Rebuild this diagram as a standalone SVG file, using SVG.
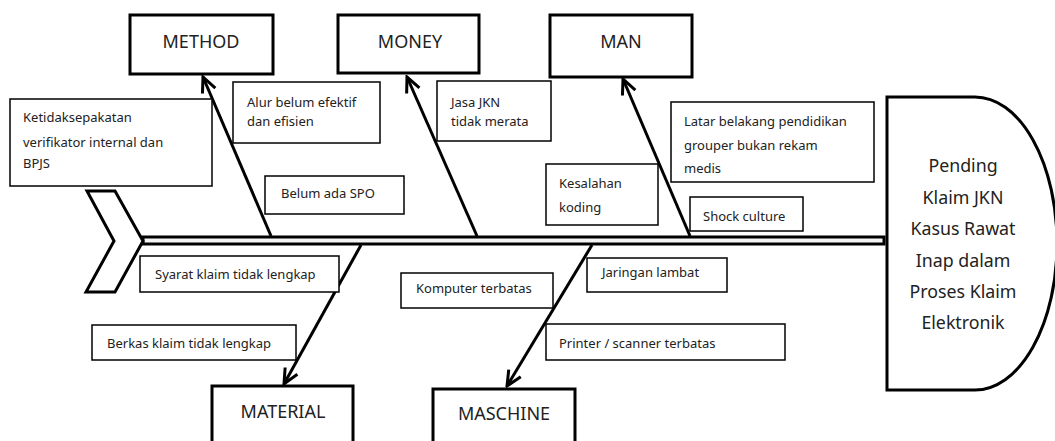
<svg xmlns="http://www.w3.org/2000/svg" width="1055" height="441" viewBox="0 0 1055 441">
<style>
  .cat { fill: #fff; stroke: #000; stroke-width: 3; }
  .box { fill: #fff; stroke: #000; stroke-width: 1.5; }
  .catText { font-family: "Noto Sans", "Open Sans", sans-serif; font-size: 18px; fill: #222; text-anchor: middle; }
  .t { font-family: "Noto Sans", "Open Sans", sans-serif; font-size: 13px; fill: #222; }
  .head { font-family: "Noto Sans", "Open Sans", sans-serif; font-size: 17.8px; fill: #222; text-anchor: middle; }
  .bone { stroke: #000; stroke-width: 3; fill: none; marker-end: url(#arr); }
</style>
<defs>
  <marker id="arr" markerUnits="userSpaceOnUse" markerWidth="18" markerHeight="18" viewBox="0 0 18 18" refX="16" refY="9" orient="auto">
    <path d="M1,2 L16,9 L1,16" fill="none" stroke="#000" stroke-width="3"/>
  </marker>
</defs>
<rect width="1055" height="441" fill="#fff"/>

<g id="connectors">
  <line class="bone" x1="271" y1="236" x2="203" y2="77"/>
  <line class="bone" x1="477" y1="236" x2="407" y2="77"/>
  <line class="bone" x1="690" y1="236" x2="623" y2="79"/>
  <line class="bone" x1="361" y1="245" x2="284" y2="384"/>
  <line class="bone" x1="592" y1="245" x2="507" y2="386"/>
</g>

<g id="spine">
  <rect x="143" y="237" width="741" height="7" fill="#f4f4f4" stroke="#000" stroke-width="3"/>
</g>

<g id="tail">
  <polygon points="87,191 115,191 143,241 115,292 86,292 114,241" fill="#fff" stroke="#000" stroke-width="3" stroke-linejoin="miter"/>
</g>

<g id="head">
  <path d="M887,97 L975,97 A82,146.5 0 0 1 975,390 L887,390 Z" fill="#fff" stroke="#000" stroke-width="3"/>
  <text class="head" x="963" y="172">Pending</text>
  <text class="head" x="963" y="204">Klaim JKN</text>
  <text class="head" x="963" y="235">Kasus Rawat</text>
  <text class="head" x="963" y="267">Inap dalam</text>
  <text class="head" x="963" y="298">Proses Klaim</text>
  <text class="head" x="963" y="329">Elektronik</text>
</g>

<g id="method">
  <rect class="cat" x="130" y="15" width="143" height="59"/>
  <text class="catText" x="201" y="48">METHOD</text>
</g>
<g id="money">
  <rect class="cat" x="338" y="15" width="141" height="58"/>
  <text class="catText" x="410" y="48">MONEY</text>
</g>
<g id="man">
  <rect class="cat" x="550" y="15" width="142" height="62" stroke-width="4"/>
  <text class="catText" x="621" y="48">MAN</text>
</g>
<g id="material">
  <rect class="cat" x="212" y="386" width="141" height="70"/>
  <text class="catText" x="283" y="418">MATERIAL</text>
</g>
<g id="maschine">
  <rect class="cat" x="433" y="389" width="142" height="70"/>
  <text class="catText" x="504" y="420">MASCHINE</text>
</g>

<g id="cause-ketidaksepakatan">
  <rect class="box" x="10" y="99" width="202" height="87"/>
  <text class="t" x="23" y="122">Ketidaksepakatan</text>
  <text class="t" x="23" y="147">verifikator internal dan</text>
  <text class="t" x="23" y="168">BPJS</text>
</g>
<g id="cause-alur">
  <rect class="box" x="233" y="82" width="147" height="61"/>
  <text class="t" x="247" y="107">Alur belum efektif</text>
  <text class="t" x="247" y="126">dan efisien</text>
</g>
<g id="cause-spo">
  <rect class="box" x="265" y="176" width="139" height="38"/>
  <text class="t" x="281" y="198">Belum ada SPO</text>
</g>
<g id="cause-jasa">
  <rect class="box" x="437" y="81" width="114" height="60"/>
  <text class="t" x="451" y="107">Jasa JKN</text>
  <text class="t" x="451" y="126">tidak merata</text>
</g>
<g id="cause-kesalahan">
  <rect class="box" x="546" y="164" width="112" height="61"/>
  <text class="t" x="559" y="188">Kesalahan</text>
  <text class="t" x="559" y="212">koding</text>
</g>
<g id="cause-latar">
  <rect class="box" x="671" y="102" width="203" height="80"/>
  <text class="t" x="684" y="126">Latar belakang pendidikan</text>
  <text class="t" x="684" y="150">grouper bukan rekam</text>
  <text class="t" x="684" y="173">medis</text>
</g>
<g id="cause-shock">
  <rect class="box" x="690" y="197" width="113" height="34"/>
  <text class="t" x="703" y="221">Shock culture</text>
</g>
<g id="cause-syarat">
  <rect class="box" x="140" y="256" width="199" height="36"/>
  <text class="t" x="155" y="279">Syarat klaim tidak lengkap</text>
</g>
<g id="cause-berkas">
  <rect class="box" x="92" y="325" width="204" height="35"/>
  <text class="t" x="107" y="348">Berkas klaim tidak lengkap</text>
</g>
<g id="cause-komputer">
  <rect class="box" x="401" y="273" width="152" height="35"/>
  <text class="t" x="416" y="293">Komputer terbatas</text>
</g>
<g id="cause-jaringan">
  <rect class="box" x="587" y="258" width="140" height="34"/>
  <text class="t" x="602" y="277">Jaringan lambat</text>
</g>
<g id="cause-printer">
  <rect class="box" x="546" y="324" width="239" height="36"/>
  <text class="t" x="559" y="348">Printer / scanner terbatas</text>
</g>
</svg>
